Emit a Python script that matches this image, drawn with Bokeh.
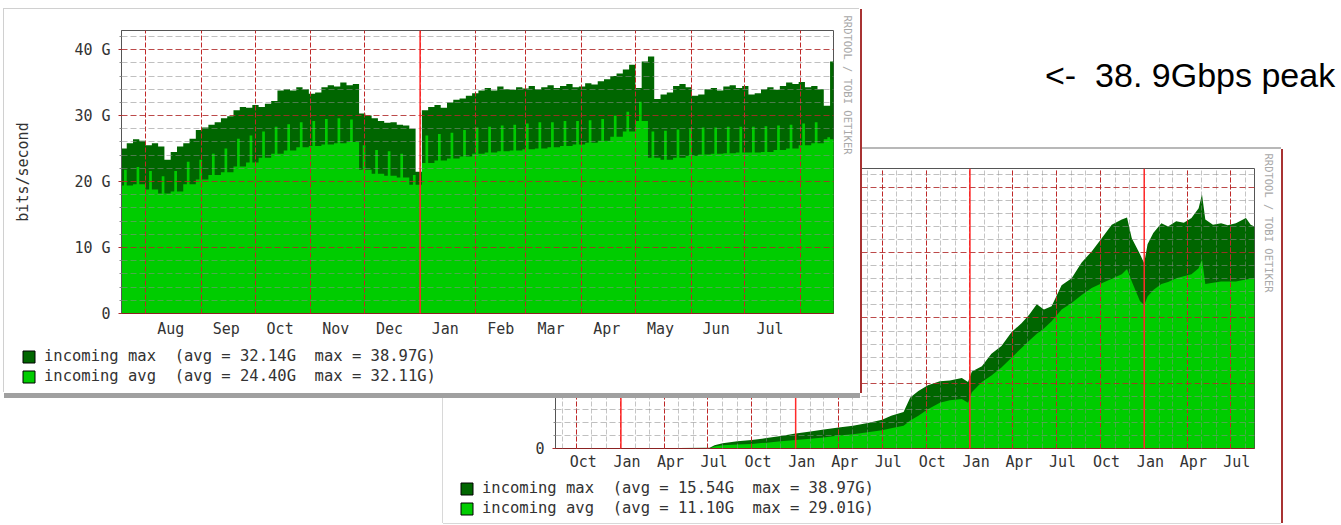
import pandas as pd
from bokeh.plotting import figure
from bokeh.models import (Range1d, FixedTicker, CustomJSTickFormatter, Span, Legend,
                          LegendItem, Title, Div)
from bokeh.layouts import row, column
from bokeh.embed import file_html
from bokeh.resources import INLINE

# ================= data: 13-month graph (Gbit/s) =================
p1_start = "2006-07-18"                      # first half-week / week of the series
p1_range = ["2006-07-18 14:00", "2007-08-19 10:00"]
# incoming max, one value per half week
p1_max = [25.0, 25.8, 26.4, 26.2, 25.5, 25.8, 25.3, 23.3, 24.5, 25.3,
          25.8, 26.5, 27.8, 28.2, 28.6, 29.0, 29.6, 29.9, 30.8, 31.3,
          31.2, 31.6, 31.3, 31.8, 32.2, 33.8, 34.0, 33.8, 34.3, 34.0,
          33.3, 33.5, 34.3, 34.6, 34.4, 35.0, 34.6, 34.8, 30.3, 30.0,
          29.6, 29.2, 28.9, 29.0, 28.6, 28.5, 28.0, 21.5, 30.8, 31.3,
          31.6, 31.2, 32.0, 32.4, 32.6, 33.0, 33.4, 33.8, 34.2, 33.8,
          34.4, 34.0, 33.9, 34.3, 34.1, 34.5, 34.0, 34.3, 34.6, 34.2,
          34.5, 34.8, 34.3, 34.4, 34.9, 34.7, 35.2, 35.5, 36.0, 36.4,
          37.0, 37.7, 34.2, 38.2, 38.97, 32.5, 33.2, 33.5, 34.5, 34.8,
          34.3, 33.0, 33.2, 34.0, 34.2, 33.8, 34.4, 34.6, 34.2, 34.5,
          33.2, 33.4, 34.0, 34.3, 33.9, 34.5, 35.0, 34.8, 35.1, 34.3,
          34.5, 34.0, 31.5, 38.2]
# incoming avg, one level per week and the short weekly peak
p1_avg = [19.4, 19.6, 18.8, 18.2, 18.5, 19.6, 20.3, 21.0, 21.4, 22.3,
          22.9, 23.6, 24.2, 24.7, 25.2, 25.4, 25.6, 25.8, 26.0, 21.8,
          21.2, 20.9, 20.6, 19.5, 22.8, 23.2, 23.5, 23.8, 24.2, 24.4,
          24.6, 24.7, 24.9, 25.0, 25.2, 25.4, 25.6, 25.9, 26.2, 26.8,
          27.6, 29.2, 23.6, 23.3, 23.6, 23.9, 24.1, 24.2, 24.3, 24.4,
          24.4, 24.5, 24.8, 25.0, 25.5, 25.8, 26.4]
p1_avg_peak = [21.8, 22.2, 21.6, 20.8, 21.6, 23.0, 23.3, 24.2, 25.0, 26.5,
               27.0, 27.6, 28.3, 28.7, 29.0, 29.2, 29.5, 29.6, 29.4, 25.5,
               24.8, 24.6, 24.2, 21.0, 27.0, 27.2, 27.4, 27.8, 28.2, 28.3,
               28.5, 28.6, 28.8, 29.0, 29.0, 29.2, 29.2, 29.3, 29.5, 30.0,
               30.6, 32.11, 27.6, 27.7, 27.9, 28.0, 28.2, 28.2, 28.3, 28.3,
               28.3, 28.4, 28.5, 28.6, 28.8, 29.0, 26.7]
p1_tick_labels = ["Aug", "Sep", "Oct", "Nov", "Dec", "Jan", "Feb", "Mar",
                  "Apr", "May", "Jun", "Jul"]
p1_label_dates = ["2006-08-15", "2006-09-15", "2006-10-15", "2006-11-15",
                  "2006-12-15", "2007-01-15", "2007-02-15", "2007-03-15",
                  "2007-04-15", "2007-05-15", "2007-06-15", "2007-07-15"]
p1_grid_dates = ["2006-08-01", "2006-09-01", "2006-10-01", "2006-11-01",
                 "2006-12-01", "2007-01-01", "2007-02-01", "2007-03-01",
                 "2007-04-01", "2007-05-01", "2007-06-01", "2007-07-01",
                 "2007-08-01"]
p1_year_marks = ["2007-01-01"]
p1_legend = ["incoming max  (avg = 32.14G  max = 38.97G)",
             "incoming avg  (avg = 24.40G  max = 32.11G)"]

# ================= data: 4-year graph (Gbit/s) =================
p2_range = ["2003-08-17", "2007-08-20"]
p2_dates = ["2004-05-01", "2004-07-05", "2004-07-15", "2004-08-01", "2004-09-01",
            "2004-10-01", "2004-11-01", "2004-12-01", "2005-01-01", "2005-02-01",
            "2005-03-01", "2005-04-01", "2005-05-01", "2005-06-01", "2005-07-01",
            "2005-07-20", "2005-08-15", "2005-08-29", "2005-09-15", "2005-10-05",
            "2005-10-30", "2005-11-20", "2005-12-15", "2005-12-28", "2006-01-05",
            "2006-01-26", "2006-02-15", "2006-03-08", "2006-03-29", "2006-04-19",
            "2006-05-05", "2006-05-21", "2006-06-05", "2006-06-21", "2006-07-12",
            "2006-08-02", "2006-08-23", "2006-09-13", "2006-10-04", "2006-10-25",
            "2006-11-15", "2006-11-26", "2006-12-06", "2006-12-23", "2007-01-01",
            "2007-01-08", "2007-01-20", "2007-02-06", "2007-02-20", "2007-03-09",
            "2007-03-25", "2007-04-10", "2007-04-25", "2007-05-02", "2007-05-09",
            "2007-05-25", "2007-06-11", "2007-06-25", "2007-07-12", "2007-08-02",
            "2007-08-12", "2007-08-20"]
p2_max = [0.06, 0.1, 0.5, 0.8, 1.1, 1.3, 1.6, 1.9, 2.3, 2.6,
          2.9, 3.2, 3.5, 3.9, 4.4, 5.0, 5.6, 7.8, 8.8, 9.7,
          10.3, 10.4, 10.8, 10.2, 11.8, 12.6, 14.5, 15.7, 17.8, 19.2,
          20.5, 22.1, 21.3, 21.8, 25.0, 26.1, 28.5, 30.2, 32.2, 34.3,
          35.1, 35.4, 32.2, 29.8, 28.4, 31.3, 33.0, 34.5, 34.0, 34.8,
          34.6, 35.3, 36.8, 38.97, 35.1, 34.3, 34.5, 34.2, 34.5, 35.3,
          34.3, 34.0]
p2_avg = [0.03, 0.05, 0.3, 0.5, 0.6, 0.7, 0.9, 1.1, 1.3, 1.5,
          1.7, 2.0, 2.2, 2.5, 2.8, 3.1, 3.5, 4.3, 5.0, 6.0,
          7.0, 7.4, 7.6, 7.0, 8.6, 10.2, 11.2, 12.4, 13.9, 15.4,
          16.5, 17.6, 18.4, 19.5, 21.3, 22.3, 23.5, 24.6, 25.3, 26.0,
          26.7, 27.5, 25.6, 22.6, 22.0, 23.3, 24.3, 25.2, 25.5, 26.1,
          26.4, 26.7, 27.6, 29.01, 25.2, 25.4, 25.6, 25.6, 25.6, 25.9,
          26.0, 26.1]
p2_tick_labels = ["Oct", "Jan", "Apr", "Jul"] * 4
p2_quarter_dates = ["2003-10-01", "2004-01-01", "2004-04-01", "2004-07-01",
                    "2004-10-01", "2005-01-01", "2005-04-01", "2005-07-01",
                    "2005-10-01", "2006-01-01", "2006-04-01", "2006-07-01",
                    "2006-10-01", "2007-01-01", "2007-04-01", "2007-07-01"]
p2_year_marks = ["2004-01-01", "2005-01-01", "2006-01-01", "2007-01-01"]
p2_legend = ["incoming max  (avg = 15.54G  max = 38.97G)",
             "incoming avg  (avg = 11.10G  max = 29.01G)"]

y_ticks = [0, 10, 20, 30, 40]
y_tick_labels = ["0", "10 G", "20 G", "30 G", "40 G"]
y_minor = [2, 4, 6, 8, 12, 14, 16, 18, 22, 24, 26, 28, 32, 34, 36, 38, 42]
y_top = 42.9
note_text = "&lt;-&nbsp; 38. 9Gbps peak"
credit = "RRDTOOL / TOBI OETIKER"

# ================= styling =================
DARK = "#006600"
BRIGHT = "#00cc00"
MGRID = "#b02a2a"
GRID = "#8c8c8c"
TXT = "#333333"
FONT = "DejaVu Sans Mono"
DAY_MS = 86400000.0


def ms(s):
    return pd.Timestamp(s).value / 1e6


def make_panel(width, height, borders, xr, margin, css, label_ms, labels,
               grid_ms, minor_ms, years, label_standoff, ylabel=None):
    p = figure(width=width, height=height,
               x_range=Range1d(ms(xr[0]), ms(xr[1])), y_range=Range1d(0, y_top),
               output_backend="svg", toolbar_location=None,
               min_border_left=borders[0], min_border_right=borders[1],
               min_border_top=borders[2], min_border_bottom=borders[3],
               background_fill_color="white", border_fill_color="white",
               outline_line_color="#555555", margin=margin, stylesheets=[css])
    # axes
    p.yaxis.ticker = FixedTicker(ticks=y_ticks, minor_ticks=y_minor)
    p.yaxis.formatter = CustomJSTickFormatter(args=dict(names=y_tick_labels),
                                              code="return names[index];")
    p.xaxis.ticker = FixedTicker(ticks=label_ms)
    p.xaxis.formatter = CustomJSTickFormatter(args=dict(names=labels),
                                              code="return names[index];")
    for ax in (p.xaxis[0], p.yaxis[0]):
        ax.major_label_text_font = FONT
        ax.major_label_text_font_size = "15px"
        ax.major_label_text_color = TXT
    p.yaxis.axis_line_color = "#555555"
    p.yaxis.major_tick_out = 3
    p.yaxis.major_tick_in = 0
    p.yaxis.major_tick_line_color = MGRID
    p.yaxis.minor_tick_out = 2
    p.yaxis.minor_tick_in = 0
    p.yaxis.minor_tick_line_color = GRID
    p.yaxis.major_label_standoff = 8
    p.xaxis.axis_line_color = "#8b2222"
    p.xaxis.major_tick_line_color = None
    p.xaxis.minor_tick_line_color = None
    p.xaxis.major_label_standoff = label_standoff
    if ylabel:
        p.yaxis.axis_label = ylabel
        p.yaxis.axis_label_text_font = FONT
        p.yaxis.axis_label_text_font_size = "15px"
        p.yaxis.axis_label_text_font_style = "normal"
        p.yaxis.axis_label_text_color = TXT
        p.yaxis.axis_label_standoff = 39
    # grids
    p.ygrid.grid_line_color = MGRID
    p.ygrid.grid_line_dash = "6 3"
    p.ygrid.grid_line_alpha = 0.85
    p.ygrid.minor_grid_line_color = GRID
    p.ygrid.minor_grid_line_dash = "6 3"
    p.ygrid.minor_grid_line_alpha = 0.55
    p.xgrid.ticker = FixedTicker(ticks=grid_ms, minor_ticks=minor_ms)
    p.xgrid.grid_line_color = "#c02828"
    p.xgrid.grid_line_dash = "5 2"
    p.xgrid.grid_line_alpha = 1.0
    if minor_ms:
        p.xgrid.minor_grid_line_color = GRID
        p.xgrid.minor_grid_line_dash = "5 2"
        p.xgrid.minor_grid_line_alpha = 0.5
    p.xgrid.level = "annotation"
    p.ygrid.level = "annotation"
    for y in years:
        p.add_layout(Span(location=ms(y), dimension="height",
                          line_color="#ff2a2a", line_width=1.5))
    p.add_layout(Title(text=credit, align="left", vertical_align="top",
                       offset=-15, standoff=13,
                       text_font=FONT, text_font_size="10.5px",
                       text_font_style="normal", text_color="#a8a8a8"), "right")
    return p


def legend_box(texts):
    """A small transparent figure that only carries the colour legend."""
    f = figure(width=430, height=42, output_backend="svg", toolbar_location=None,
               x_axis_location=None, y_axis_location=None, min_border=0,
               x_range=Range1d(0, 1), y_range=Range1d(0, 1),
               background_fill_alpha=0, border_fill_alpha=0,
               outline_line_color=None)
    f.xgrid.visible = False
    f.ygrid.visible = False
    # swatch renderers: one box each, placed outside the visible range
    r_a = f.quad(left=[2], right=[3], top=[3], bottom=[2], fill_color=DARK, line_color="black")
    r_b = f.quad(left=[2], right=[3], top=[3], bottom=[2], fill_color=BRIGHT, line_color="black")
    f.add_layout(Legend(items=[LegendItem(label=texts[0], renderers=[r_a]),
                               LegendItem(label=texts[1], renderers=[r_b])],
                        location="top_left", orientation="vertical",
                        glyph_width=15, glyph_height=15, label_height=15,
                        label_standoff=8, spacing=2, padding=0, margin=0,
                        border_line_color=None, background_fill_alpha=0,
                        label_text_font=FONT, label_text_font_size="15.5px",
                        label_text_color=TXT))
    return f


# ---------- panel 1: 13 months ----------
p1 = make_panel(856, 384, (117, 27, 21, 80), p1_range, (1, 0, 0, 4),
                ":host { box-shadow: 2px 0 0 0 #a83232, 0 5px 0 0 #a0a0a0, -1px -1px 0 0 #d0d0d0; }",
                [ms(d) for d in p1_label_dates], p1_tick_labels,
                [ms(d) for d in p1_grid_dates], [], p1_year_marks, 0,
                ylabel="bits/second")

t0 = ms(p1_start)
mx_x = [t0 + k * 3.5 * DAY_MS for k in range(len(p1_max) + 1)]
mx_y = p1_max + [p1_max[-1]]
av_x, av_y = [], []
for w, (b, s) in enumerate(zip(p1_avg, p1_avg_peak)):
    ws = t0 + 7 * w * DAY_MS
    av_x += [ws, ws + 2 * DAY_MS, ws + 3.5 * DAY_MS]
    av_y += [b, s, b]
av_x.append(t0 + 7 * len(p1_avg) * DAY_MS)
av_y.append(p1_avg[-1])
p1.varea_step(x=mx_x, y1=[0] * len(mx_x), y2=mx_y, step_mode="after", fill_color=DARK)
p1.varea_step(x=av_x, y1=[0] * len(av_x), y2=av_y, step_mode="after", fill_color=BRIGHT)
leg1 = row(legend_box(p1_legend), margin=(-46, 0, 0, 21))

# ---------- panel 2: 4 years ----------
month_ms = [ms(d) for d in pd.date_range("2003-09-01", "2007-08-01", freq="MS")]
p2 = make_panel(838, 374, (112, 26, 19, 75), p2_range, (149, 0, 0, 443),
                ":host { box-shadow: 2px 0 0 0 #a83232, 0 -2px 0 0 #b8b8b8, -1px 0 0 0 #d8d8d8, 0 1px 0 0 #d8d8d8; }",
                [ms(d) + 13 * DAY_MS for d in p2_quarter_dates], p2_tick_labels,
                [ms(d) for d in p2_quarter_dates], month_ms, p2_year_marks, -2)
x2 = [ms(d) for d in p2_dates]
p2.varea(x=x2, y1=[0] * len(x2), y2=p2_max, fill_color=DARK)
p2.varea(x=x2, y1=[0] * len(x2), y2=p2_avg, fill_color=BRIGHT)
leg2 = row(legend_box(p2_legend), margin=(-44, 0, 0, 459))

note = Div(text='<span style="font-family:\'Liberation Sans\',Arial,sans-serif;'
                'font-size:34px;line-height:1;color:#000;white-space:nowrap;">'
                + note_text + '</span>',
           width=288, height=40, margin=(50, 0, 0, 185))

# panel 2 first (underneath), panel 1 pulled back up on top of it
layout = column(column(p2, leg2),
                row(column(p1, leg1), note, margin=(-513, 0, 0, 0)))

with open("out.html", "w") as f:
    f.write(file_html(layout, INLINE, "traffic"))
